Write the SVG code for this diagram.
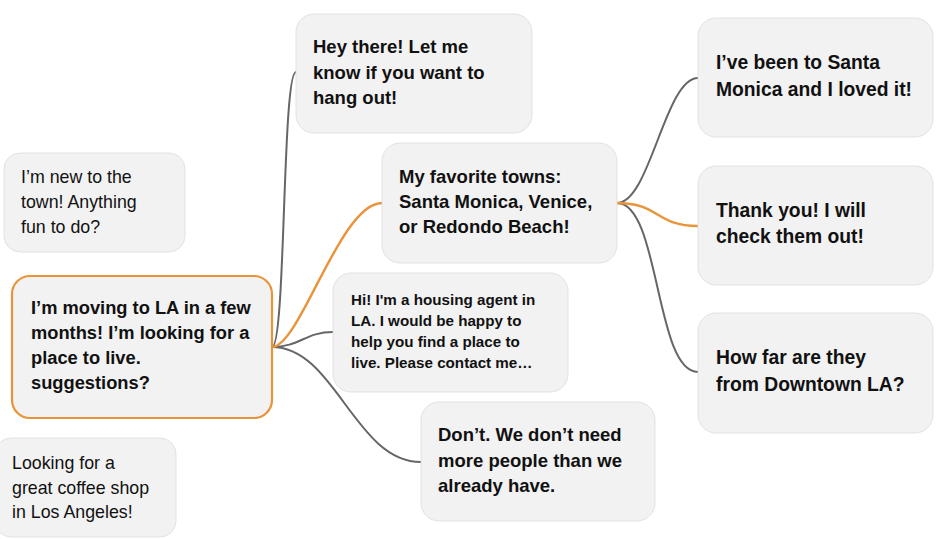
<svg xmlns="http://www.w3.org/2000/svg" width="939" height="539" viewBox="0 0 939 539">
<style>
.box{fill:#F2F2F2;stroke:#DCDCDC;stroke-width:0.8}
.main{fill:#F2F2F2;stroke:#E8943A;stroke-width:2.2}
.t{font-family:"Liberation Sans",Arial,sans-serif;fill:#111}
.b{font-weight:bold;font-size:18.5px}
.m{font-weight:bold;font-size:18.3px}
.q{font-weight:bold;font-size:19.3px}
.s{font-weight:bold;font-size:15.2px}
.r{font-size:17.8px}
.g{fill:none;stroke:#666;stroke-width:2}
.o{fill:none;stroke:#E8943A;stroke-width:2.4}
</style>
<rect width="939" height="539" fill="#fff"/>
<g id="connectors">
<path class="g" d="M272,347 C286,347 282,72 296,72"/>
<path class="g" d="M272,347 C300,347 305,332 333,332"/>
<path class="g" d="M272,347 C335,347 355,462 421,462"/>
<path class="o" d="M272,347 C300,347 340,203 382,203"/>
<path class="g" d="M617,203 C650,203 665,78 698,78"/>
<path class="g" d="M617,203 C660,203 655,372 698,372"/>
<path class="o" d="M617,203 C660,203 655,226 698,226"/>
</g>
<g id="n-new">
<rect class="box" x="4" y="153" width="181" height="99" rx="16"/>
<text class="t r" x="21"><tspan y="183">I’m new to the</tspan><tspan x="21" y="208">town! Anything</tspan><tspan x="21" y="233">fun to do?</tspan></text>
</g>
<g id="n-main">
<rect class="main" x="12" y="276" width="260" height="142" rx="18"/>
<text class="t m" x="31"><tspan y="314">I’m moving to LA in a few</tspan><tspan x="31" y="339">months! I’m looking for a</tspan><tspan x="31" y="364">place to live.</tspan><tspan x="31" y="389">suggestions?</tspan></text>
</g>
<g id="n-coffee">
<rect class="box" x="-5" y="438" width="181" height="99" rx="16"/>
<text class="t r" x="12"><tspan y="469">Looking for a</tspan><tspan x="12" y="494">great coffee shop</tspan><tspan x="12" y="518">in Los Angeles!</tspan></text>
</g>
<g id="n-hey">
<rect class="box" x="296" y="14" width="236" height="119" rx="18"/>
<text class="t b" x="313"><tspan y="53">Hey there! Let me</tspan><tspan x="313" y="79">know if you want to</tspan><tspan x="313" y="104">hang out!</tspan></text>
</g>
<g id="n-fav">
<rect class="box" x="382" y="143" width="235" height="120" rx="18"/>
<text class="t b" x="399"><tspan y="183">My favorite towns:</tspan><tspan x="399" y="208">Santa Monica, Venice,</tspan><tspan x="399" y="233">or Redondo Beach!</tspan></text>
</g>
<g id="n-agent">
<rect class="box" x="333" y="273" width="235" height="119" rx="18"/>
<text class="t s" x="351"><tspan y="305">Hi! I'm a housing agent in</tspan><tspan x="351" y="326">LA. I would be happy to</tspan><tspan x="351" y="347">help you find a place to</tspan><tspan x="351" y="368">live. Please contact me…</tspan></text>
</g>
<g id="n-dont">
<rect class="box" x="421" y="402" width="234" height="119" rx="18"/>
<text class="t b" x="438"><tspan y="441">Don’t. We don’t need</tspan><tspan x="438" y="467">more people than we</tspan><tspan x="438" y="492">already have.</tspan></text>
</g>
<g id="n-been">
<rect class="box" x="698" y="18" width="235" height="119" rx="18"/>
<text class="t q" x="716"><tspan y="69">I’ve been to Santa</tspan><tspan x="716" y="96">Monica and I loved it!</tspan></text>
</g>
<g id="n-thanks">
<rect class="box" x="698" y="166" width="235" height="119" rx="18"/>
<text class="t q" x="716"><tspan y="217">Thank you! I will</tspan><tspan x="716" y="243">check them out!</tspan></text>
</g>
<g id="n-far">
<rect class="box" x="698" y="313" width="235" height="120" rx="18"/>
<text class="t q" x="716"><tspan y="364">How far are they</tspan><tspan x="716" y="391">from Downtown LA?</tspan></text>
</g>
</svg>
